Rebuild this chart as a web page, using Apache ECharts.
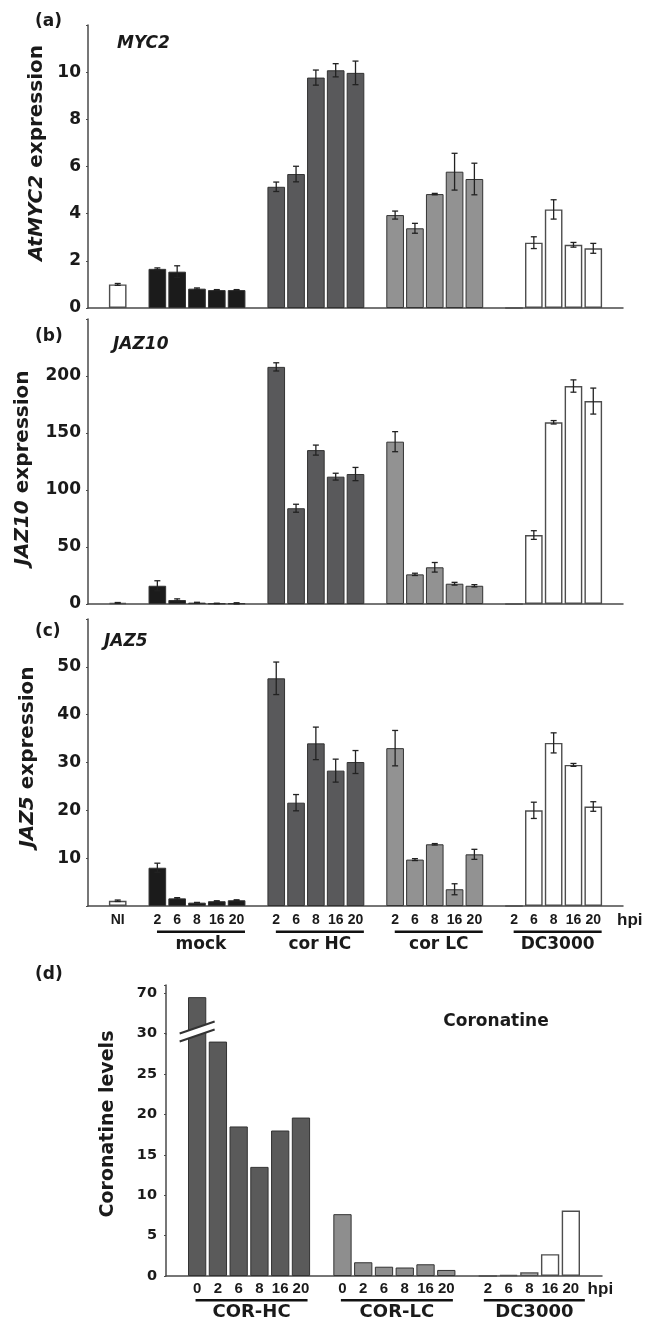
<!DOCTYPE html>
<html><head><meta charset="utf-8">
<script src="https://cdn.jsdelivr.net/npm/echarts@6/dist/echarts.min.js"></script>
<style>html,body{margin:0;padding:0;background:#fff}#c{width:652px;height:1322px}</style>
</head><body><div id="c"></div><script>
// ---------- data ----------
const hpiLabels = ['2', '6', '8', '16', '20'];
const groupNamesABC = ['mock', 'cor HC', 'cor LC', 'DC3000'];

// (a) MYC2
const myc2NI = 1.0, myc2NIErr = 0.04;
const myc2Mock = [1.66, 1.54, 0.82, 0.76, 0.76];
const myc2MockErr = [0.04, 0.25, 0.03, 0.02, 0.02];
const myc2CorHC = [5.14, 5.68, 9.77, 10.08, 9.97];
const myc2CorHCErr = [0.2, 0.33, 0.32, 0.28, 0.5];
const myc2CorLC = [3.94, 3.38, 4.83, 5.78, 5.47];
const myc2CorLCErr = [0.17, 0.21, 0.03, 0.78, 0.67];
const myc2DC = [0, 2.77, 4.18, 2.68, 2.53];
const myc2DCErr = [0, 0.25, 0.41, 0.1, 0.21];

// (b) JAZ10
const jaz10NI = 1.0, jaz10NIErr = 0.3;
const jaz10Mock = [16, 3.5, 1.2, 0.5, 0.6];
const jaz10MockErr = [4.4, 1.0, 0.3, 0.2, 0.5];
const jaz10CorHC = [208, 84, 135, 111.7, 114];
const jaz10CorHCErr = [3.6, 3.5, 4.4, 3, 5.8];
const jaz10CorLC = [142.4, 26, 32.2, 17.8, 16];
const jaz10CorLCErr = [8.8, 1, 4.2, 1.2, 1];
const jaz10DC = [0, 60.5, 159.4, 191.2, 178];
const jaz10DCErr = [0, 3.8, 1.5, 5.4, 11.4];

// (c) JAZ5
const jaz5NI = 1.1, jaz5NIErr = 0.15;
const jaz5Mock = [8.0, 1.6, 0.7, 1.0, 1.2];
const jaz5MockErr = [0.95, 0.15, 0.05, 0.1, 0.1];
const jaz5CorHC = [47.6, 21.6, 34.0, 28.3, 30.1];
const jaz5CorHCErr = [3.4, 1.7, 3.4, 2.4, 2.4];
const jaz5CorLC = [33.0, 9.7, 12.9, 3.5, 10.8];
const jaz5CorLCErr = [3.7, 0.2, 0.15, 1.15, 1.05];
const jaz5DC = [0, 20.0, 34.1, 29.5, 20.8];
const jaz5DCErr = [0, 1.7, 2.1, 0.3, 1.0];

// (d) Coronatine
const corHpi = ['0', '2', '6', '8', '16', '20'];
const dcHpi = ['2', '6', '8', '16', '20'];
const groupNamesD = ['COR-HC', 'COR-LC', 'DC3000'];
const coronHC = [69.5, 29, 18.5, 13.5, 18, 19.6];
const coronLC = [7.65, 1.7, 1.15, 1.05, 1.45, 0.75];
const coronDC = [0, 0.12, 0.45, 2.7, 8.1];

// ---------- styling ----------
const FB = '"DejaVu Sans", "Liberation Sans", sans-serif';
const FN = '"Liberation Sans", Arial, sans-serif';
const INK = '#1a1a1a';
const AX = '#4a4a4a';
const COL = { NI: '#ffffff', mock: '#1b1b1b', HC: '#59595b', LC: '#929292', DC: '#ffffff' };

// ---------- slots ----------
const slotsABC = ['s0', 'NI', 's2'];
groupNamesABC.forEach((g, gi) => { hpiLabels.forEach(h => slotsABC.push(g + '|' + h)); slotsABC.push('gap' + gi); });
const startsABC = [3, 9, 15, 21];

const slotsD = ['s0'];
corHpi.forEach(h => slotsD.push('COR-HC|' + h)); slotsD.push('gap0');
corHpi.forEach(h => slotsD.push('COR-LC|' + h)); slotsD.push('gap1');
dcHpi.forEach(h => slotsD.push('DC3000|' + h)); slotsD.push('gap2');
const startsD = [1, 8, 15];

const grids = [
  { left: 88, top: 25, width: 535, height: 283 },
  { left: 88, top: 319, width: 535, height: 285 },
  { left: 88, top: 619, width: 535, height: 287 },
  { left: 166, top: 985, width: 436, height: 291 }
].map(g => Object.assign(g, { containLabel: false, outerBoundsMode: 'none' }));

function placed(n, start, vals) {
  const d = new Array(n).fill(null);
  vals.forEach((v, i) => { d[start + i] = v; });
  return d;
}
function barS(gi, n, start, vals, color) {
  const white = color === '#ffffff';
  return {
    type: 'bar', xAxisIndex: gi, yAxisIndex: gi, stack: 'p' + gi,
    data: placed(n, start, vals), barCategoryGap: '11%', silent: true,
    itemStyle: { color, borderColor: white ? '#4d4d4d' : '#333', borderWidth: white ? 1.4 : 1 },
    z: 2
  };
}
function errItem(params, api) {
  const x = api.value(0);
  const lo = api.coord([x, api.value(1)]);
  const hi = api.coord([x, api.value(2)]);
  const cw = 3;
  const st = { stroke: '#222', lineWidth: 1.3 };
  return { type: 'group', children: [
    { type: 'line', shape: { x1: lo[0], y1: lo[1], x2: hi[0], y2: hi[1] }, style: st },
    { type: 'line', shape: { x1: lo[0] - cw, y1: lo[1], x2: lo[0] + cw, y2: lo[1] }, style: st },
    { type: 'line', shape: { x1: hi[0] - cw, y1: hi[1], x2: hi[0] + cw, y2: hi[1] }, style: st }
  ] };
}

const panelData = [
  { NI: myc2NI, NIe: myc2NIErr, g: [[myc2Mock, myc2MockErr], [myc2CorHC, myc2CorHCErr], [myc2CorLC, myc2CorLCErr], [myc2DC, myc2DCErr]] },
  { NI: jaz10NI, NIe: jaz10NIErr, g: [[jaz10Mock, jaz10MockErr], [jaz10CorHC, jaz10CorHCErr], [jaz10CorLC, jaz10CorLCErr], [jaz10DC, jaz10DCErr]] },
  { NI: jaz5NI, NIe: jaz5NIErr, g: [[jaz5Mock, jaz5MockErr], [jaz5CorHC, jaz5CorHCErr], [jaz5CorLC, jaz5CorLCErr], [jaz5DC, jaz5DCErr]] }
];
const grpColors = [COL.mock, COL.HC, COL.LC, COL.DC];

const series = [];
panelData.forEach((p, gi) => {
  series.push(barS(gi, 27, 1, [p.NI], COL.NI));
  const err = [];
  if (p.NIe > 0) err.push([1, p.NI - p.NIe, p.NI + p.NIe]);
  p.g.forEach(([vals, errs], k) => {
    series.push(barS(gi, 27, startsABC[k], vals, grpColors[k]));
    vals.forEach((v, i) => { if (errs[i] > 0) err.push([startsABC[k] + i, v - errs[i], v + errs[i]]); });
  });
  series.push({ type: 'custom', xAxisIndex: gi, yAxisIndex: gi, renderItem: errItem, data: err, encode: { x: 0, y: [1, 2] }, z: 5, silent: true });
});
series.push(barS(3, 21, startsD[0], coronHC, '#5a5a5a'));
series.push(barS(3, 21, startsD[1], coronLC, '#8e8e8e'));
series.push(barS(3, 21, startsD[2], coronDC, '#ffffff'));
series[series.length - 1].barCategoryGap = '12%';

function xAx(gi, data, showLabel, fontSize, margin) {
  return {
    type: 'category', gridIndex: gi, data, boundaryGap: true,
    axisLine: { show: true, lineStyle: { color: AX, width: 1.5 } },
    axisTick: { show: false },
    splitLine: { show: false },
    axisLabel: {
      show: showLabel, interval: 0, color: INK, fontFamily: FN, fontWeight: 'bold', fontSize, margin,
      formatter: v => v === 'NI' ? 'NI' : (v.indexOf('|') >= 0 ? v.split('|')[1] : '')
    }
  };
}
function yAx(gi, max, interval, name, hideZero, nameGap, pad, labelSize, nameSize) {
  return {
    type: 'value', gridIndex: gi, min: 0, max, interval,
    splitLine: { show: false },
    axisLine: { show: true, lineStyle: { color: AX, width: 1.5 } },
    axisTick: { show: true, length: 2, lineStyle: { color: AX, width: 1.2 } },
    axisLabel: {
      color: INK, fontFamily: FB, fontWeight: 'bold', fontSize: labelSize, margin: 7,
      formatter: v => (v === max || (hideZero && v === 0)) ? '' : String(v)
    },
    name, nameLocation: 'middle', nameGap, nameRotate: 90, nameMoveOverlap: false,
    nameTextStyle: {
      color: INK, fontFamily: FB, fontWeight: 'bold', fontSize: nameSize, padding: pad,
      rich: { i: { fontStyle: 'italic', fontWeight: 'bold', fontFamily: FB, fontSize: nameSize, color: INK } }
    }
  };
}

const yD = {
  type: 'value', gridIndex: 3, min: 0, max: 71, interval: 5,
  breaks: [{ start: 30, end: 65, gap: 0 }],
  breakArea: { show: false },
  breakLabelLayout: { moveOverlap: false },
  splitLine: { show: false },
  axisLine: { show: true, lineStyle: { color: AX, width: 1.5 } },
  axisTick: { show: true, length: 2, lineStyle: { color: AX, width: 1.2 } },
  axisLabel: {
    color: INK, fontFamily: FB, fontWeight: 'bold', fontSize: 14.5, margin: 9,
    formatter: v => (v % 5 === 0 && v !== 65 && v <= 70) ? String(v) : ''
  },
  name: 'Coronatine levels', nameLocation: 'middle', nameGap: 48, nameRotate: 90, nameMoveOverlap: false,
  nameTextStyle: { color: INK, fontFamily: FB, fontWeight: 'bold', fontSize: 19, padding: [0, 0, 0, 13] }
};

const chart = echarts.init(document.getElementById('c'), null, { renderer: 'canvas', width: 652, height: 1322 });
chart.setOption({
  backgroundColor: '#ffffff',
  animation: false,
  grid: grids,
  xAxis: [
    xAx(0, slotsABC, false, 14, 7),
    xAx(1, slotsABC, false, 14, 7),
    xAx(2, slotsABC, true, 14, 7),
    xAx(3, slotsD, true, 15, 5)
  ],
  yAxis: [
    yAx(0, 12, 2, '{i|AtMYC2} expression', false, 41, [0, 0, 0, 27], 17, 20),
    yAx(1, 250, 50, '{i|JAZ10} expression', false, 55, [0, 13, 0, 0], 17, 20),
    yAx(2, 60, 10, '{i|JAZ5} expression', true, 50, [0, 0, 0, 11], 17, 20),
    yD
  ],
  series
});

// ---------- annotations positioned from the axes ----------
const px = (ax, i) => chart.convertToPixel({ xAxisIndex: ax }, i);
const py = (ax, v) => chart.convertToPixel({ yAxisIndex: ax }, v);
const gfx = [];
function txt(x, y, text, font, align) {
  gfx.push({ type: 'text', x, y, z: 20, style: { text, font, fill: INK, align: align || 'left', verticalAlign: 'middle' } });
}
function rect(x, y, w, h) {
  gfx.push({ type: 'rect', z: 20, shape: { x, y, width: w, height: h }, style: { fill: '#111' } });
}

// panel letters & gene names
txt(35, 22, '(a)', 'bold 17px ' + FB);
txt(35, 337, '(b)', 'bold 17px ' + FB);
txt(35, 632, '(c)', 'bold 17px ' + FB);
txt(35, 975, '(d)', 'bold 17px ' + FB);
txt(117, 44, 'MYC2', 'italic bold 17px ' + FB);
txt(113, 345, 'JAZ10', 'italic bold 17px ' + FB);
txt(104, 642, 'JAZ5', 'italic bold 17px ' + FB);
txt(496, 1022, 'Coronatine', 'bold 17px ' + FB, 'center');

// group underlines + names, panel (c)
const yBaseC = py(2, 0);
startsABC.forEach((s, k) => {
  const cx = (px(2, s) + px(2, s + 4)) / 2 + 4;
  rect(cx - 44, yBaseC + 24.5, 88, 2.5);
  txt(cx, yBaseC + 39, groupNamesABC[k], 'bold 17px ' + FB, 'center');
});
txt(px(2, 26) + 4, yBaseC + 14, 'hpi', 'bold 17px ' + FN);

// group underlines + names, panel (d)
const yBaseD = py(3, 0);
const lensD = [6, 6, 5];
startsD.forEach((s, k) => {
  const n = lensD[k];
  const cx = (px(3, s) + px(3, s + n - 1)) / 2 + (n === 6 ? 2.5 : 5);
  const w = n === 6 ? 112 : 101;
  rect(cx - w / 2, yBaseD + 23, w, 2.5);
  txt(cx, yBaseD + 36, groupNamesD[k], 'bold 18px ' + FB, 'center');
});
txt(px(3, 20) - 4, yBaseD + 13, 'hpi', 'bold 17px ' + FN);

// axis-break marks across the first COR-HC bar
const bx = px(3, startsD[0]);
const by = py(3, 30) - 2;
const x0 = bx - 17.5, x1 = bx + 17.5;
gfx.push({ type: 'polygon', z: 21, shape: { points: [[x0, by + 2], [x1, by - 10], [x1, by - 2], [x0, by + 10]] }, style: { fill: '#ffffff' } });
gfx.push({ type: 'line', z: 22, shape: { x1: x0, y1: by + 2, x2: x1, y2: by - 10 }, style: { stroke: '#333', lineWidth: 2 } });
gfx.push({ type: 'line', z: 22, shape: { x1: x0, y1: by + 10, x2: x1, y2: by - 2 }, style: { stroke: '#333', lineWidth: 2 } });

chart.setOption({ graphic: gfx });
</script></body></html>
